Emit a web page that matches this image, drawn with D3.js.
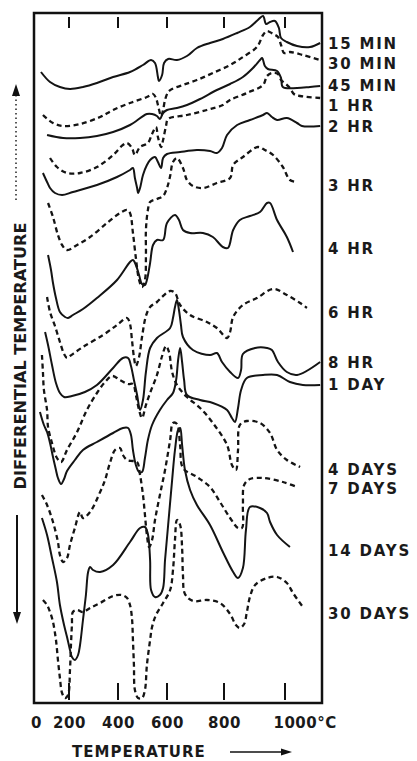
<!DOCTYPE html>
<html>
<head>
<meta charset="utf-8">
<script src="https://cdn.jsdelivr.net/npm/d3@7"></script>
<style>
  body { margin: 0; background: #fff; }
  text { font-family: "DejaVu Sans", sans-serif; font-weight: bold; fill: #1a1a1a; }
</style>
</head>
<body>
<div id="chart"></div>
<script>
// Curve names, styles and where their labels sit (ΔT units, arbitrary)
const curveNames = ["15 MIN", "30 MIN", "45 MIN", "1 HR", "2 HR", "3 HR", "4 HR",
  "6 HR", "8 HR", "1 DAY", "4 DAYS", "7 DAYS", "14 DAYS", "30 DAYS"];
const curveDashed = [false, true, false, true, false, true, false,
  true, false, false, true, true, false, true];
const labelLevels = [660, 640, 618, 598, 577, 518, 455, 391, 341, 319, 234, 215, 153, 90];

// Temperature axis ticks
const tickTemps = [0, 200, 400, 600, 800, 1000];
const tickLabels = ["0", "200", "400", "600", "800", "1000°C"];

// Curves: temperature (°C) and differential temperature (arbitrary, stacked)
const t15min = [30,85,145,204,257,314,380,449,502,535,551,563,567,580,588,604,635,670,705,751,796,843,885,911,928,938,951,967,980,987,1006,1039,1081,1114];
const v15min = [631,621,616,614,616,620,626,631,638,643,640,626,622,628,640,644,643,647,655,660,664,670,676,683,687,679,681,682,675,665,661,657,656,660];

const t30min = [42,103,164,245,327,380,449,518,543,555,563,576,584,592,604,618,656,705,761,820,862,908,928,941,961,977,987,997,1016,1058,1114];
const v30min = [588,580,577,579,586,593,600,606,609,605,598,587,593,603,611,614,618,623,630,638,646,656,668,672,669,666,658,650,651,648,643];

const t45min = [67,164,245,314,380,449,518,539,559,571,584,600,635,670,716,775,820,862,895,918,925,934,944,974,987,993,1039,1081,1114];
const v45min = [568,565,565,567,571,578,589,589,587,584,590,593,595,598,604,613,619,626,635,643,645,637,634,632,625,616,615,616,617];

const t1hr = [85,127,188,245,314,380,420,437,457,469,490,522,539,555,563,576,584,596,604,670,740,796,820,875,928,941,957,977,987,1003,1016,1029,1049,1114];
const v1hr = [545,536,530,530,536,548,558,560,555,548,556,560,569,576,566,556,563,577,584,588,593,598,603,610,618,627,630,629,623,619,615,609,607,605];

const t2hr = [42,67,85,115,158,216,314,396,449,461,469,478,482,490,502,518,531,551,563,576,584,600,646,705,751,775,793,810,843,885,928,941,957,974,1006,1039,1055,1114];
const v2hr = [530,521,515,510,508,511,518,526,533,535,525,515,510,515,528,538,543,546,541,535,545,549,551,553,552,550,555,568,578,583,588,590,586,583,585,580,577,577];

const t3hr = [73,103,133,158,188,233,286,355,408,437,449,461,473,486,498,510,514,514,522,531,559,584,600,611,621,635,656,670,691,726,775,820,830,862,911,934,961,993,1016,1039];
const v3hr = [500,486,468,458,453,458,466,480,490,493,490,470,445,423,416,423,448,473,493,501,504,507,515,527,541,545,535,523,517,515,520,525,538,546,556,553,548,536,523,521];

const t4hr = [73,91,103,121,145,176,194,216,257,314,396,449,461,473,486,498,510,518,531,543,559,584,600,628,642,656,681,726,761,796,813,830,852,885,918,941,951,974,1006,1026];
const v4hr = [448,433,420,405,391,386,385,388,394,405,423,441,443,438,428,419,418,423,440,458,463,463,480,488,483,473,470,470,466,456,455,473,483,487,491,500,500,483,466,451];

const t6hr = [67,85,115,145,170,188,204,257,339,396,437,449,457,465,473,486,498,514,531,559,584,611,628,646,681,740,775,810,820,830,862,908,961,1006,1049,1071];
const v6hr = [406,391,377,361,349,345,347,356,368,378,385,379,363,346,337,346,366,387,396,401,407,412,410,398,388,381,375,365,371,386,398,405,414,408,400,395];

const t8hr = [55,73,97,121,145,170,212,265,314,380,420,441,453,465,478,490,502,514,531,559,611,621,628,635,642,649,656,691,751,775,793,820,846,856,862,902,941,957,977,1006,1039,1114];
const v8hr = [371,358,338,320,310,306,307,311,318,335,345,345,337,323,308,293,303,331,355,365,375,385,396,403,393,378,366,353,348,350,341,331,325,333,349,355,355,353,341,331,328,341];

const t1day = [24,48,67,85,103,121,133,152,170,188,224,257,314,380,420,441,453,461,473,486,498,510,522,539,571,600,621,632,639,646,653,660,670,716,761,810,826,836,846,856,875,928,974,1016,1058,1114];
const v1day = [291,278,271,260,246,233,225,219,224,232,243,253,261,270,275,275,268,253,238,231,231,245,263,278,293,303,310,323,343,355,341,323,308,303,300,293,285,281,295,313,325,328,328,321,318,318];

const t4days = [36,42,48,67,73,97,127,152,188,233,273,314,347,376,408,441,461,473,486,498,514,531,559,580,596,607,618,635,670,716,761,810,826,839,846,852,875,918,951,974,1006,1049];
const v4days = [348,331,313,293,276,260,245,241,253,271,293,310,321,327,323,319,319,308,293,285,298,310,328,347,357,351,331,318,306,295,280,258,238,233,253,278,282,280,270,253,243,236];

const t7days = [36,67,103,133,145,164,188,204,224,245,257,286,327,347,367,388,408,420,437,461,478,490,502,510,518,527,539,551,571,592,611,621,635,646,656,705,751,786,820,846,859,862,866,885,928,993,1039];
const v7days = [208,198,181,161,148,141,145,158,175,191,185,191,211,223,240,253,255,248,243,242,241,228,208,188,168,156,163,183,208,233,263,280,279,258,235,226,216,201,185,175,175,198,218,224,225,221,216];

const t14days = [36,67,97,127,145,170,188,204,212,224,237,245,257,269,278,286,298,327,380,449,490,510,522,531,535,551,571,584,592,604,618,628,639,646,653,663,681,705,751,796,830,846,862,872,885,918,941,951,974,1016];
const v14days = [185,168,145,121,98,78,66,53,46,43,48,58,83,108,131,136,133,131,138,161,175,176,169,143,113,106,108,115,143,178,223,253,273,275,258,233,213,198,178,151,131,125,135,173,196,195,190,181,168,156];

const t30days = [42,67,85,103,121,133,145,158,176,194,204,208,212,216,233,257,286,327,380,416,437,449,457,461,465,469,482,498,510,518,531,539,555,584,611,621,628,635,646,653,656,663,691,740,786,820,839,852,866,875,885,902,941,974,1006,1026,1058];
const v30days = [103,98,91,81,63,43,25,10,5,8,33,58,78,91,93,91,95,100,107,108,105,98,85,63,38,13,5,5,13,38,63,76,88,100,113,133,163,183,178,155,128,109,102,103,100,89,78,75,79,91,106,118,125,126,120,110,96];

const curveTemps = [t15min, t30min, t45min, t1hr, t2hr, t3hr, t4hr, t6hr, t8hr, t1day, t4days, t7days, t14days, t30days];
const curveValues = [v15min, v30min, v45min, v1hr, v2hr, v3hr, v4hr, v6hr, v8hr, v1day, v4days, v7days, v14days, v30days];

// Frame of the plot
const frame = {left: 34, right: 322, top: 13, bottom: 703};

const svg = d3.select("#chart").append("svg")
  .attr("width", 417)
  .attr("height", 761);

// Scales (the printed temperature axis is not quite linear)
const x = d3.scaleLinear()
  .domain([0, 200, 400, 600, 800, 1000, 1120])
  .range([36, 69, 118, 167, 224, 285, 322]);
const y = d3.scaleLinear()
  .domain([0, 690])
  .range([frame.bottom, frame.top]);

// Curves
const line = d3.line()
  .x(d => x(d[0]))
  .y(d => y(d[1]))
  .curve(d3.curveCatmullRom.alpha(0.5));

curveTemps.forEach((ts, i) => {
  const pts = ts.map((t, j) => [t, curveValues[i][j]]);
  svg.append("path")
    .datum(pts)
    .attr("fill", "none")
    .attr("stroke", "#141414")
    .attr("stroke-width", curveDashed[i] ? 2.3 : 2)
    .attr("stroke-dasharray", curveDashed[i] ? "5,3.5" : null)
    .attr("stroke-linejoin", "round")
    .attr("d", line);
});

// Frame
svg.append("rect")
  .attr("x", frame.left)
  .attr("y", frame.top)
  .attr("width", frame.right - frame.left)
  .attr("height", frame.bottom - frame.top)
  .attr("fill", "none")
  .attr("stroke", "#111")
  .attr("stroke-width", 2.5);

// Inner tick marks at top and bottom
const innerTicks = tickTemps.slice(1);
svg.selectAll(".tick-top")
  .data(innerTicks)
  .enter().append("line")
  .attr("x1", d => x(d)).attr("x2", d => x(d))
  .attr("y1", frame.top + 4).attr("y2", frame.top + 15)
  .attr("stroke", "#111").attr("stroke-width", 2);
svg.selectAll(".tick-bottom")
  .data(innerTicks)
  .enter().append("line")
  .attr("x1", d => x(d)).attr("x2", d => x(d))
  .attr("y1", frame.bottom - 20).attr("y2", frame.bottom - 3)
  .attr("stroke", "#111").attr("stroke-width", 2);

// Bottom axis labels
const xAxis = svg.append("g")
  .attr("transform", "translate(0," + frame.bottom + ")")
  .call(d3.axisBottom(x)
    .tickValues(tickTemps)
    .tickSize(0)
    .tickPadding(14)
    .tickFormat((d, i) => tickLabels[i]));
xAxis.select(".domain").remove();
xAxis.selectAll("text")
  .attr("font-size", 15)
  .attr("font-family", "DejaVu Sans")
  .attr("font-weight", "bold")
  .attr("fill", "#1a1a1a")
  .attr("letter-spacing", 0.5);
xAxis.selectAll(".tick").filter(d => d === 1000).select("text")
  .attr("text-anchor", "start")
  .attr("dx", -12);

// Curve labels on the right
svg.selectAll(".curve-label")
  .data(curveNames)
  .enter().append("text")
  .attr("x", 328)
  .attr("y", (d, i) => y(labelLevels[i]) + 6)
  .attr("font-size", 15)
  .attr("letter-spacing", 1.8)
  .text(d => d);

// Axis titles
svg.append("text")
  .attr("x", 72)
  .attr("y", 757)
  .attr("font-size", 15)
  .attr("letter-spacing", 1)
  .text("TEMPERATURE");
svg.append("line")
  .attr("x1", 230).attr("x2", 283)
  .attr("y1", 752).attr("y2", 752)
  .attr("stroke", "#111").attr("stroke-width", 1.5);
svg.append("path")
  .attr("d", "M292,752 L281,748.5 L281,755.5 Z")
  .attr("fill", "#111");

svg.append("text")
  .attr("transform", "translate(26,356) rotate(-90)")
  .attr("text-anchor", "middle")
  .attr("font-size", 15)
  .attr("textLength", 267)
  .attr("lengthAdjust", "spacingAndGlyphs")
  .text("DIFFERENTIAL TEMPERATURE");

// Arrows beside the y title
svg.append("line")
  .attr("x1", 16).attr("x2", 16)
  .attr("y1", 200).attr("y2", 94)
  .attr("stroke", "#222").attr("stroke-width", 1.5)
  .attr("stroke-dasharray", "1.5,3");
svg.append("path")
  .attr("d", "M16,84 L12,96 L20,96 Z")
  .attr("fill", "#111");
svg.append("line")
  .attr("x1", 17).attr("x2", 17)
  .attr("y1", 515).attr("y2", 614)
  .attr("stroke", "#111").attr("stroke-width", 2);
svg.append("path")
  .attr("d", "M17,624 L13,612 L21,612 Z")
  .attr("fill", "#111");
</script>
</body>
</html>
